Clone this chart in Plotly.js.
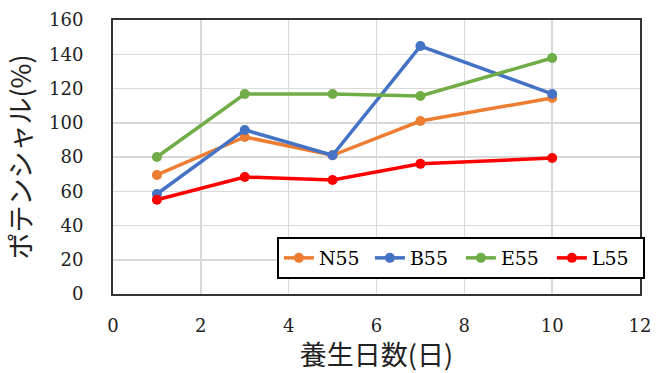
<!DOCTYPE html>
<html>
<head>
<meta charset="utf-8">
<script src="https://cdn.plot.ly/plotly-3.0.1.min.js"></script>
<style>
  html, body { margin: 0; padding: 0; background: #fff; }
  #chart { width: 667px; height: 373px; }
</style>
</head>
<body>
<div id="chart"></div>
<script>
// Curing days
const days = [1, 3, 5, 7, 10];

// Potential (%) per mix
const seriesNames = ["N55", "B55", "E55", "L55"];
const n55 = [69.5, 91.7, 81, 101, 114.5];
const b55 = [58.4, 95.8, 81, 144.8, 116.8];
const e55 = [80, 116.8, 116.8, 115.6, 137.8];
const l55 = [55, 68.3, 66.6, 76, 79.4];

const seriesColors = ["#ED7D31", "#4472C4", "#70AD47", "#FF0000"];

const xTicks = [0, 2, 4, 6, 8, 10, 12];
const yTicks = [0, 20, 40, 60, 80, 100, 120, 140, 160];

const values = [n55, b55, e55, l55];
const traces = values.map((v, i) => ({
  x: days,
  y: v,
  name: seriesNames[i],
  type: "scatter",
  mode: "lines+markers",
  line: { color: seriesColors[i], width: 3.5 },
  marker: { color: seriesColors[i], size: 10 }
}));

const serif = "DejaVu Serif";
const cjk = "Noto Sans CJK JP";

const layout = {
  width: 667,
  height: 373,
  margin: { l: 113, r: 27, t: 20, b: 79, autoexpand: false },
  paper_bgcolor: "#fff",
  plot_bgcolor: "#fff",
  font: { family: serif },
  showlegend: true,
  legend: {
    orientation: "h",
    x: 0.311, xanchor: "left",
    y: 0.208, yanchor: "top",
    bgcolor: "#fff",
    bordercolor: "#000",
    borderwidth: 2,
    font: { family: serif, size: 19, color: "#000" },
    entrywidth: 46,
    entrywidthmode: "pixels",
    tracegroupgap: 0
  },
  xaxis: {
    range: [0, 12],
    tickvals: xTicks,
    ticktext: xTicks.map(String),
    showgrid: true,
    gridcolor: "#d9d9d9",
    gridwidth: 1.5,
    zeroline: false,
    showline: true,
    linecolor: "#333",
    linewidth: 2,
    mirror: true,
    ticks: "",
    tickfont: { family: serif, size: 18, color: "#222" },
    ticklabelstandoff: 14,
    title: {
      text: "養生日数(日)",
      font: { family: cjk, size: 27, color: "#222" },
      standoff: 12
    }
  },
  yaxis: {
    range: [0, 160],
    tickvals: yTicks,
    ticktext: yTicks.map(String),
    showgrid: true,
    gridcolor: "#d9d9d9",
    gridwidth: 1.5,
    zeroline: false,
    showline: true,
    linecolor: "#333",
    linewidth: 2,
    mirror: true,
    ticks: "",
    tickfont: { family: serif, size: 18, color: "#222" },
    ticklabelstandoff: 24,
    title: {
      text: "ポテンシャル(%)",
      font: { family: cjk, size: 27, color: "#222" },
      standoff: 20
    }
  }
};

Plotly.newPlot("chart", traces, layout, { displayModeBar: false, staticPlot: true });
</script>
</body>
</html>
